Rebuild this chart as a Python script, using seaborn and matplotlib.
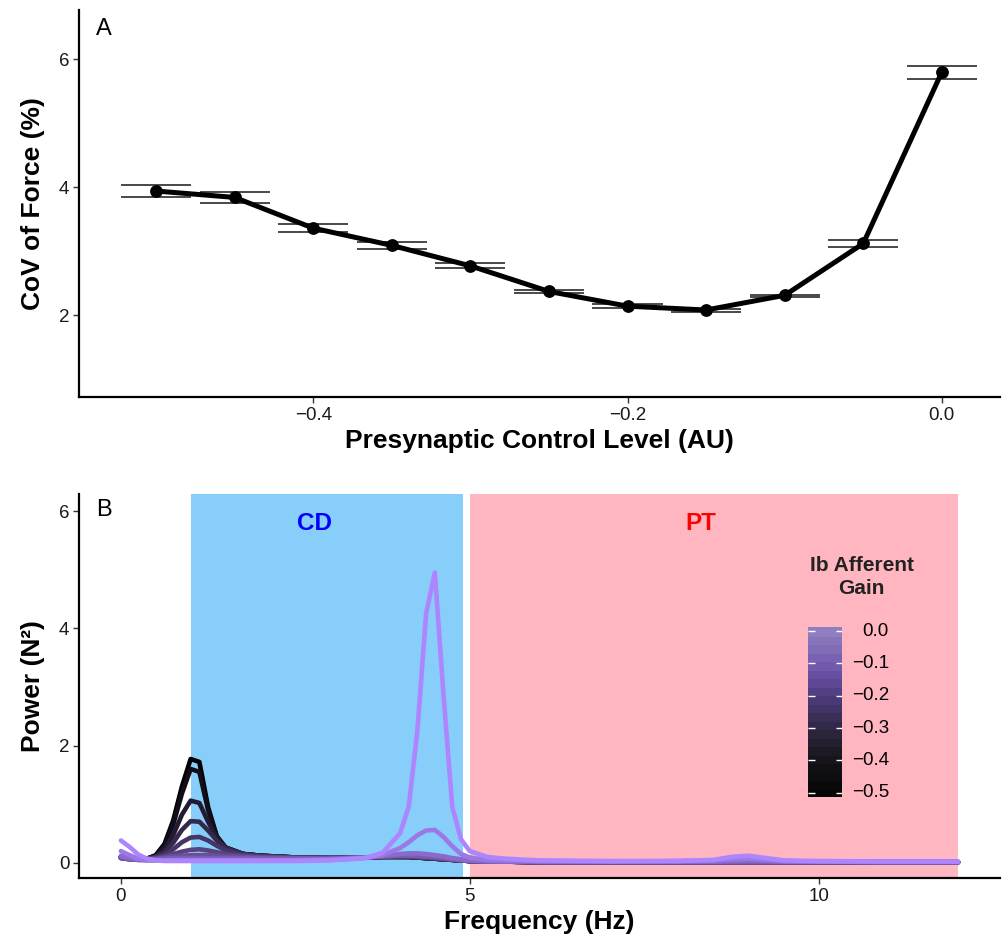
import numpy as np
import pandas as pd
import matplotlib
matplotlib.use("Agg")
import matplotlib.pyplot as plt
import seaborn as sns
from matplotlib.colors import LinearSegmentedColormap, Normalize

# ---------------- Panel A data ----------------
presyn_level = [-0.50, -0.45, -0.40, -0.35, -0.30, -0.25, -0.20, -0.15, -0.10, -0.05, 0.00]
cov_mean = [3.94, 3.84, 3.36, 3.09, 2.77, 2.37, 2.14, 2.08, 2.31, 3.12, 5.80]
cov_low = [3.85, 3.75, 3.30, 3.04, 2.74, 2.34, 2.11, 2.05, 2.29, 3.07, 5.69]
cov_high = [4.04, 3.92, 3.42, 3.15, 2.81, 2.40, 2.17, 2.10, 2.32, 3.17, 5.89]
a_xticks = [-0.4, -0.2, 0.0]
a_xticklabels = ["\u22120.4", "\u22120.2", "0.0"]
a_yticks = [2, 4, 6]

# ---------------- Panel B data ----------------
freq_hz = [0, 0.125, 0.25, 0.375, 0.5, 0.625, 0.75, 0.875, 1.0, 1.125, 1.25, 1.375, 1.5,
           1.75, 2.0, 2.5, 3.0, 3.5, 3.75, 4.0, 4.125, 4.25, 4.375, 4.5, 4.625, 4.75,
           4.875, 5.0, 5.25, 5.5, 6.0, 7.0, 8.0, 8.5, 8.75, 9.0, 9.25, 9.5, 10.0, 11.0, 12.0]
gain_levels = [-0.50, -0.45, -0.40, -0.35, -0.30, -0.25, -0.20, -0.15, -0.10, -0.05, 0.00]

power_g_m050 = [0.10, 0.08, 0.06, 0.07, 0.13, 0.32, 0.72, 1.30, 1.77, 1.72, 0.95, 0.45, 0.26,
                0.15, 0.12, 0.09, 0.08, 0.09, 0.10, 0.10, 0.10, 0.09, 0.08, 0.07, 0.06, 0.05,
                0.04, 0.03, 0.02, 0.02, 0.01, 0.01, 0.01, 0.01, 0.01, 0.01, 0.01, 0.01, 0.01, 0.01, 0.01]
power_g_m045 = [0.10, 0.08, 0.06, 0.07, 0.12, 0.29, 0.65, 1.18, 1.60, 1.55, 0.90, 0.45, 0.26,
                0.15, 0.12, 0.09, 0.08, 0.09, 0.10, 0.10, 0.10, 0.09, 0.08, 0.07, 0.06, 0.05,
                0.04, 0.03, 0.02, 0.02, 0.01, 0.01, 0.01, 0.01, 0.01, 0.01, 0.01, 0.01, 0.01, 0.01, 0.01]
power_g_m040 = [0.09, 0.07, 0.06, 0.07, 0.11, 0.23, 0.47, 0.82, 1.06, 1.02, 0.70, 0.42, 0.26,
                0.15, 0.12, 0.09, 0.08, 0.09, 0.10, 0.10, 0.10, 0.09, 0.08, 0.07, 0.06, 0.05,
                0.04, 0.03, 0.02, 0.02, 0.01, 0.01, 0.01, 0.01, 0.01, 0.01, 0.01, 0.01, 0.01, 0.01, 0.01]
power_g_m035 = [0.09, 0.07, 0.06, 0.07, 0.10, 0.18, 0.34, 0.56, 0.71, 0.70, 0.55, 0.38, 0.25,
                0.15, 0.12, 0.09, 0.08, 0.09, 0.10, 0.10, 0.10, 0.09, 0.08, 0.07, 0.06, 0.05,
                0.04, 0.03, 0.02, 0.02, 0.01, 0.01, 0.01, 0.01, 0.01, 0.01, 0.01, 0.01, 0.01, 0.01, 0.01]
power_g_m030 = [0.08, 0.06, 0.05, 0.06, 0.09, 0.14, 0.23, 0.35, 0.43, 0.44, 0.38, 0.29, 0.21,
                0.14, 0.11, 0.09, 0.08, 0.09, 0.10, 0.10, 0.10, 0.09, 0.08, 0.07, 0.06, 0.05,
                0.04, 0.03, 0.02, 0.02, 0.01, 0.01, 0.01, 0.01, 0.01, 0.01, 0.01, 0.01, 0.01, 0.01, 0.01]
power_g_m025 = [0.08, 0.06, 0.05, 0.06, 0.08, 0.11, 0.15, 0.19, 0.22, 0.23, 0.21, 0.18, 0.15,
                0.12, 0.10, 0.08, 0.08, 0.09, 0.10, 0.11, 0.11, 0.10, 0.09, 0.08, 0.07, 0.05,
                0.04, 0.03, 0.02, 0.02, 0.01, 0.01, 0.01, 0.01, 0.01, 0.01, 0.01, 0.01, 0.01, 0.01, 0.01]
power_g_m020 = [0.08, 0.06, 0.05, 0.05, 0.07, 0.09, 0.11, 0.12, 0.13, 0.13, 0.13, 0.12, 0.11,
                0.10, 0.09, 0.08, 0.08, 0.09, 0.11, 0.12, 0.12, 0.11, 0.10, 0.09, 0.07, 0.06,
                0.04, 0.03, 0.02, 0.02, 0.01, 0.01, 0.01, 0.01, 0.01, 0.01, 0.01, 0.01, 0.01, 0.01, 0.01]
power_g_m015 = [0.09, 0.06, 0.05, 0.05, 0.06, 0.07, 0.08, 0.08, 0.08, 0.08, 0.08, 0.08, 0.08,
                0.08, 0.07, 0.07, 0.07, 0.09, 0.11, 0.12, 0.12, 0.12, 0.11, 0.10, 0.08, 0.06,
                0.05, 0.03, 0.02, 0.02, 0.01, 0.01, 0.01, 0.01, 0.01, 0.01, 0.01, 0.01, 0.01, 0.01, 0.01]
power_g_m010 = [0.12, 0.08, 0.05, 0.04, 0.04, 0.04, 0.05, 0.05, 0.05, 0.05, 0.05, 0.05, 0.05,
                0.05, 0.05, 0.05, 0.06, 0.09, 0.12, 0.15, 0.16, 0.16, 0.15, 0.13, 0.11, 0.08,
                0.06, 0.04, 0.03, 0.02, 0.02, 0.02, 0.02, 0.02, 0.03, 0.04, 0.03, 0.02, 0.02, 0.01, 0.01]
power_g_m005 = [0.20, 0.13, 0.07, 0.05, 0.04, 0.04, 0.04, 0.04, 0.04, 0.04, 0.04, 0.04, 0.04,
                0.04, 0.04, 0.04, 0.05, 0.08, 0.13, 0.25, 0.35, 0.47, 0.55, 0.56, 0.44, 0.28,
                0.15, 0.09, 0.05, 0.04, 0.03, 0.02, 0.03, 0.04, 0.06, 0.07, 0.05, 0.03, 0.02, 0.02, 0.02]
power_g_000 = [0.38, 0.27, 0.14, 0.07, 0.04, 0.03, 0.03, 0.03, 0.03, 0.03, 0.03, 0.03, 0.03,
               0.03, 0.03, 0.03, 0.04, 0.08, 0.17, 0.50, 0.95, 2.25, 4.25, 4.95, 2.85, 0.95,
               0.40, 0.20, 0.10, 0.07, 0.04, 0.03, 0.03, 0.05, 0.10, 0.12, 0.08, 0.04, 0.03, 0.02, 0.02]

band_names = ["CD", "PT"]
band_start = [1.0, 5.0]
band_end = [4.9, 12.0]
b_xticks = [0, 5, 10]
b_yticks = [0, 2, 4, 6]
cbar_ticks = [0.0, -0.1, -0.2, -0.3, -0.4, -0.5]
cbar_ticklabels = ["0.0", "\u22120.1", "\u22120.2", "\u22120.3", "\u22120.4", "\u22120.5"]

# ---------------- styling ----------------
sns.set_style("ticks")
plt.rcParams['font.family'] = ['Liberation Sans', 'DejaVu Sans']

W, H = 1007, 941
fig = plt.figure(figsize=(W / 100, H / 100), dpi=100)
axA = fig.add_axes([79 / W, 1 - 397 / H, 921 / W, 387 / H])
axB = fig.add_axes([79 / W, 1 - 878 / H, 921 / W, 384 / H])

TICK_COLOR = "#1a1a1a"


def style_axis(ax):
    for s in ["top", "right"]:
        ax.spines[s].set_visible(False)
    for s in ["left", "bottom"]:
        ax.spines[s].set_color("black")
        ax.spines[s].set_linewidth(1.6)
    ax.tick_params(axis="both", direction="out", length=4, width=1.0, color="#333333",
                   labelsize=13.5, labelcolor=TICK_COLOR, pad=3)
    ax.grid(False)


# ---------------- Panel A ----------------
half_w = 0.0223
xs = np.array(presyn_level)
axA.hlines(cov_low, xs - half_w, xs + half_w, color="#3a3a3a", lw=1.3, zorder=2)
axA.hlines(cov_high, xs - half_w, xs + half_w, color="#3a3a3a", lw=1.3, zorder=2)
axA.vlines(xs, cov_low, cov_high, color="#3a3a3a", lw=1.3, zorder=2)
sns.lineplot(x=presyn_level, y=cov_mean, color="black", lw=3.6, ax=axA, zorder=3,
             solid_joinstyle="round", solid_capstyle="round")
sns.scatterplot(x=presyn_level, y=cov_mean, color="black", s=85, edgecolor="black",
                linewidth=0, ax=axA, zorder=4)
axA.set_xlim(-0.549, 0.037)
axA.set_ylim(0.72, 6.77)
axA.set_xticks(a_xticks)
axA.set_xticklabels(a_xticklabels)
axA.set_yticks(a_yticks)
style_axis(axA)
axA.set_xlabel("Presynaptic Control Level (AU)", fontsize=19, fontweight="bold",
               labelpad=4, color="black")
axA.set_ylabel("CoV of Force (%)", fontsize=19, fontweight="bold", labelpad=10,
               color="black")

# ---------------- Panel B ----------------
band_colors = ["#87CEFA", "#FFB6C1"]
band_text_colors = ["#0000FF", "#FF0000"]
band_label_x = [2.78, 8.31]
for s, e, c in zip(band_start, band_end, band_colors):
    axB.axvspan(s, e, color=c, lw=0, zorder=0)

all_powers = [power_g_m050, power_g_m045, power_g_m040, power_g_m035, power_g_m030,
              power_g_m025, power_g_m020, power_g_m015, power_g_m010, power_g_m005, power_g_000]
rows = []
for g, pw in zip(gain_levels, all_powers):
    for f, p in zip(freq_hz, pw):
        rows.append((f, p, g))
df = pd.DataFrame(rows, columns=["freq", "power", "gain"])

line_cmap = LinearSegmentedColormap.from_list("ib", ["#000000", "#AD85FF"])
sns.lineplot(data=df, x="freq", y="power", hue="gain", units="gain", estimator=None,
             sort=False, palette=line_cmap, hue_norm=(-0.5, 0.0), lw=3.3, legend=False,
             ax=axB, zorder=2, solid_joinstyle="round", solid_capstyle="round")

for name, xpos, tc in zip(band_names, band_label_x, band_text_colors):
    axB.text(xpos, 5.79, name, color=tc, fontsize=17.5, fontweight="bold",
             ha="center", va="center", zorder=3)

axB.set_xlim(-0.6, 12.6)
axB.set_ylim(-0.26, 6.29)
axB.set_xticks(b_xticks)
axB.set_yticks(b_yticks)
style_axis(axB)
axB.set_xlabel("Frequency (Hz)", fontsize=19, fontweight="bold", labelpad=4, color="black")
axB.set_ylabel("Power (N\u00b2)", fontsize=19, fontweight="bold", labelpad=10, color="black")

# panel letters
fig.text(104 / W, 1 - 29 / H, "A", fontsize=17, ha="center", va="center", color="black")
fig.text(104 / W, 1 - 510 / H, "B", fontsize=17, ha="center", va="center", color="black")

# ---------------- colour bar ----------------
cax = fig.add_axes([808.3 / W, 1 - 797.3 / H, 34 / W, 170 / H])
cbar_cmap = LinearSegmentedColormap.from_list(
    "cb", [(0.0, "#050505"), (0.2, "#161419"), (0.4, "#2F2742"), (0.6, "#4C3B7C"),
           (0.75, "#6C52A6"), (0.88, "#7E69B6"), (1.0, "#8F7FC0")])
edges = np.linspace(-0.514, 0.0115, 21)
centers = 0.5 * (edges[:-1] + edges[1:])
cax.pcolormesh([0, 1], edges, centers.reshape(-1, 1), cmap=cbar_cmap,
               norm=Normalize(-0.5, 0.0), shading="flat", antialiased=False,
               edgecolors="face", linewidth=0.3)
cax.set_xlim(0, 1)
cax.set_ylim(-0.514, 0.0115)
for s in cax.spines.values():
    s.set_visible(False)
cax.set_xticks([])
cax.set_yticks([])
cax.hlines(cbar_ticks, 0, 0.2, color="white", lw=1.0)
cax.hlines(cbar_ticks, 0.8, 1.0, color="white", lw=1.0)
for t, lab in zip(cbar_ticks, cbar_ticklabels):
    cax.text(2.37, t, lab, transform=cax.get_yaxis_transform(), ha="right", va="center",
             fontsize=13.5, color="black")
fig.text(861.7 / W, 1 - 577 / H, "Ib Afferent\nGain", ha="center", va="center",
         fontsize=15, fontweight="bold", color="#222222", linespacing=1.25)

fig.savefig("out.png", dpi=100)
